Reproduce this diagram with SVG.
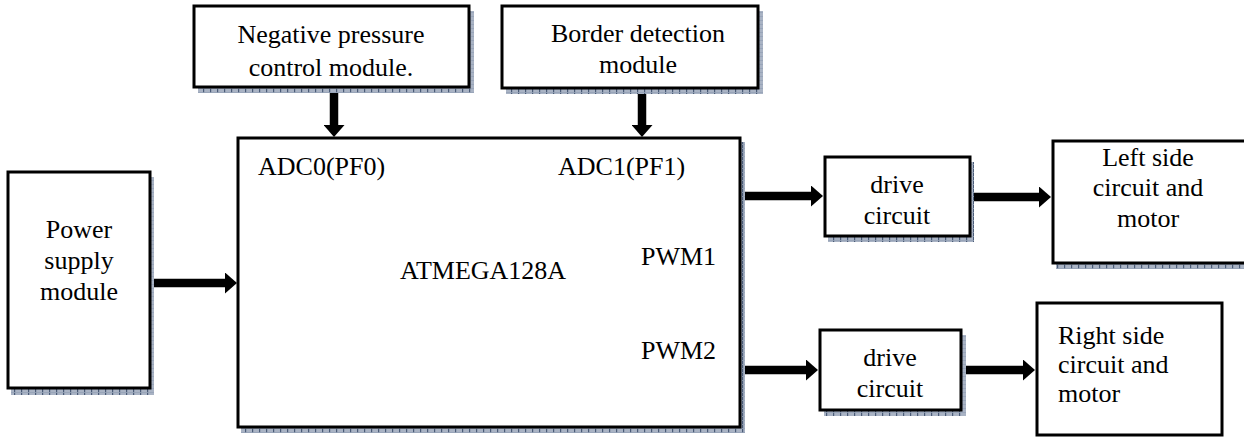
<svg xmlns="http://www.w3.org/2000/svg" width="1244" height="437" viewBox="0 0 1244 437">
<style>
.box{fill:#fff;stroke:#000;stroke-width:3}
.sh{fill:url(#grid)}
.t{font-family:"Liberation Serif","Times New Roman",serif;font-size:26px;fill:#000}
.c{text-anchor:middle}
.ar{stroke:#000;stroke-width:8.5;fill:none}
</style>
<defs>
<pattern id="grid" width="7" height="4" patternUnits="userSpaceOnUse">
<rect width="7" height="4" fill="#a9b3c4"/>
<rect x="0" y="0" width="1.2" height="4" fill="#4a5b77"/>
<rect x="0" y="0" width="7" height="0.8" fill="#95a2b6"/>
</pattern>
<marker id="ah" markerUnits="userSpaceOnUse" viewBox="0 0 12 21" refX="1" refY="10.5" markerWidth="12" markerHeight="21" orient="auto">
<path d="M0,0 L12,10.5 L0,21 Z" fill="#000"/>
</marker>
</defs>

<g id="connectors">
<line class="ar" x1="152" y1="283" x2="226" y2="283" marker-end="url(#ah)"/>
<line class="ar" x1="334" y1="88" x2="334" y2="126" marker-end="url(#ah)"/>
<line class="ar" x1="642" y1="89" x2="642" y2="126" marker-end="url(#ah)"/>
<line class="ar" x1="742" y1="196" x2="812" y2="196" marker-end="url(#ah)"/>
<line class="ar" x1="971" y1="197" x2="1040" y2="197" marker-end="url(#ah)"/>
<line class="ar" x1="742" y1="370" x2="807" y2="370" marker-end="url(#ah)"/>
<line class="ar" x1="962" y1="370" x2="1024" y2="370" marker-end="url(#ah)"/>
</g>

<g id="neg-pressure">
<rect class="sh" x="198" y="11" width="276" height="82"/>
<rect class="box" x="194" y="6" width="275" height="81"/>
<text class="t c" x="331" y="43">Negative pressure</text>
<text class="t c" x="331" y="76">control module.</text>
</g>

<g id="border-detection">
<rect class="sh" x="506" y="11" width="257" height="83"/>
<rect class="box" x="502" y="6" width="256" height="82"/>
<text class="t c" x="638" y="42">Border detection</text>
<text class="t c" x="638" y="73">module</text>
</g>

<g id="power-supply">
<rect class="sh" x="11" y="177" width="143" height="218"/>
<rect class="box" x="8" y="172" width="142" height="216"/>
<text class="t c" x="79" y="238">Power</text>
<text class="t c" x="79" y="269">supply</text>
<text class="t c" x="79" y="300">module</text>
</g>

<g id="atmega">
<rect class="sh" x="241" y="142" width="504" height="291"/>
<rect class="box" x="238" y="138" width="502" height="289"/>
<text class="t" x="258" y="175">ADC0(PF0)</text>
<text class="t" x="558" y="175">ADC1(PF1)</text>
<text class="t" x="400" y="279">ATMEGA128A</text>
<text class="t" x="641" y="265">PWM1</text>
<text class="t" x="641" y="359">PWM2</text>
</g>

<g id="drive1">
<rect class="sh" x="828" y="162" width="146" height="80"/>
<rect class="box" x="825" y="157" width="145" height="79"/>
<text class="t c" x="897" y="193">drive</text>
<text class="t c" x="897" y="224">circuit</text>
</g>

<g id="drive2">
<rect class="sh" x="824" y="335" width="142" height="81"/>
<rect class="box" x="820" y="330" width="141" height="80"/>
<text class="t c" x="890" y="366">drive</text>
<text class="t c" x="890" y="397">circuit</text>
</g>

<g id="left-side">
<rect class="sh" x="1056" y="146" width="200" height="123"/>
<rect class="box" x="1053" y="141" width="200" height="122"/>
<text class="t c" x="1148" y="166">Left side</text>
<text class="t c" x="1148" y="196">circuit and</text>
<text class="t c" x="1148" y="227">motor</text>
</g>

<g id="right-side">
<rect class="box" x="1037" y="303" width="185" height="132"/>
<text class="t" x="1058" y="344">Right side</text>
<text class="t" x="1058" y="373">circuit and</text>
<text class="t" x="1058" y="402">motor</text>
</g>
</svg>
